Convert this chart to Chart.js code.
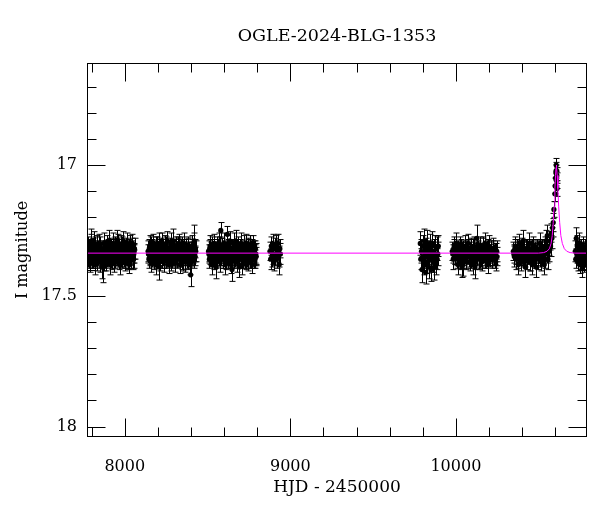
<!DOCTYPE html>
<html>
<head>
<meta charset="utf-8">
<script src="https://cdn.jsdelivr.net/npm/chart.js@4"></script>
<style>body{margin:0;background:#fff}canvas{display:block}</style>
</head>
<body>
<canvas id="c" width="600" height="512"></canvas>
<script>
// OGLE I-band photometry, [HJD-2450000, mag, err], arrays per season
const s1=[[7776,17.31,.035],[7781,17.35,.04],[7785,17.33,.035],[7790,17.37,.04],[7794,17.30,.035],[7799,17.29,.045],[7803,17.36,.035],[7808,17.32,.04],
[7812,17.29,.035],[7817,17.35,.04],[7821,17.38,.04],[7826,17.33,.035],[7830,17.31,.04],[7835,17.36,.035],[7839,17.34,.04],[7844,17.30,.035],
[7848,17.37,.04],[7853,17.33,.035],[7857,17.35,.04],[7862,17.39,.045],[7866,17.39,.06],[7871,17.34,.035],[7875,17.30,.04],[7880,17.36,.035],
[7884,17.33,.04],[7889,17.37,.035],[7893,17.31,.04],[7898,17.35,.035],[7902,17.29,.04],[7907,17.34,.035],[7911,17.38,.04],[7916,17.32,.035],
[7920,17.36,.04],[7925,17.33,.035],[7929,17.30,.04],[7934,17.35,.035],[7938,17.37,.04],[7943,17.31,.035],[7947,17.34,.04],[7952,17.29,.04],
[7956,17.32,.04],[7961,17.30,.035],[7965,17.35,.04],[7970,17.38,.04],[7974,17.33,.035],[7979,17.31,.04],[7984,17.36,.035],[7988,17.34,.04],
[7992,17.29,.035],[7997,17.35,.04],[8001,17.37,.035],[8006,17.32,.04],[8010,17.34,.035],[8015,17.30,.04],[8019,17.36,.035],[8024,17.33,.04],
[8028,17.38,.035],[8033,17.31,.04],[8037,17.35,.035],[8042,17.33,.04],[8046,17.30,.035],[8051,17.36,.04],[8055,17.34,.035],[8059,17.32,.04]];
const s1b=[[7778,17.34,.035],[7783,17.32,.035],[7787,17.36,.035],[7792,17.33,.03],[7796,17.35,.035],[7801,17.32,.035],[7805,17.34,.03],[7810,17.36,.035],
[7814,17.33,.035],[7819,17.31,.035],[7823,17.35,.03],[7828,17.34,.035],[7832,17.37,.035],[7837,17.32,.03],[7841,17.35,.035],[7846,17.33,.035],
[7850,17.31,.035],[7855,17.36,.03],[7859,17.33,.035],[7864,17.35,.035],[7868,17.32,.03],[7873,17.37,.035],[7877,17.34,.035],[7882,17.32,.03],
[7886,17.35,.035],[7891,17.33,.035],[7895,17.36,.03],[7900,17.32,.035],[7904,17.35,.035],[7909,17.31,.03],[7913,17.34,.035],[7918,17.36,.035],
[7922,17.33,.03],[7927,17.35,.035],[7931,17.32,.035],[7936,17.34,.03],[7940,17.36,.035],[7945,17.33,.035],[7949,17.31,.03],[7954,17.35,.035],
[7958,17.34,.035],[7963,17.37,.03],[7967,17.32,.035],[7972,17.34,.035],[7976,17.36,.03],[7981,17.33,.035],[7986,17.31,.035],[7990,17.35,.03],
[7994,17.33,.035],[7999,17.36,.035],[8003,17.32,.03],[8008,17.35,.035],[8012,17.33,.035],[8017,17.37,.03],[8021,17.34,.035],[8026,17.32,.035],
[8030,17.35,.03],[8035,17.33,.035],[8039,17.36,.035],[8044,17.31,.03],[8048,17.34,.035],[8053,17.36,.035],[8057,17.33,.03]];
const s2=[[8141,17.33,.04],[8146,17.36,.035],[8150,17.31,.04],[8155,17.35,.035],[8159,17.37,.04],[8164,17.32,.035],[8168,17.34,.04],[8173,17.30,.035],
[8177,17.36,.04],[8182,17.33,.035],[8186,17.38,.04],[8191,17.31,.035],[8195,17.35,.04],[8200,17.33,.035],[8204,17.30,.04],[8209,17.39,.05],
[8213,17.34,.035],[8218,17.32,.04],[8222,17.36,.035],[8227,17.30,.04],[8231,17.35,.035],[8236,17.37,.04],[8240,17.33,.035],[8245,17.31,.04],
[8249,17.36,.035],[8254,17.34,.04],[8258,17.29,.035],[8263,17.35,.04],[8267,17.38,.035],[8272,17.32,.04],[8276,17.34,.035],[8281,17.30,.04],
[8285,17.36,.035],[8290,17.33,.04],[8294,17.29,.045],[8299,17.35,.035],[8303,17.37,.04],[8308,17.31,.035],[8312,17.34,.04],[8317,17.36,.035],
[8321,17.32,.04],[8326,17.30,.035],[8330,17.35,.04],[8335,17.38,.035],[8339,17.33,.04],[8344,17.31,.035],[8348,17.36,.04],[8353,17.34,.035],
[8357,17.30,.04],[8362,17.35,.035],[8366,17.37,.04],[8371,17.32,.035],[8375,17.34,.04],[8380,17.31,.035],[8384,17.36,.04],[8389,17.33,.035],
[8393,17.38,.04],[8398,17.42,.045],[8402,17.35,.035],[8407,17.31,.04],[8411,17.34,.035],[8416,17.30,.04],[8420,17.29,.06],[8425,17.35,.035],[8429,17.33,.04]];
const s2b=[[8143,17.34,.035],[8148,17.32,.035],[8152,17.35,.03],[8157,17.33,.035],[8161,17.31,.035],[8166,17.36,.03],[8170,17.33,.035],[8175,17.35,.035],
[8179,17.32,.03],[8184,17.34,.035],[8188,17.36,.035],[8193,17.33,.03],[8197,17.31,.035],[8202,17.35,.035],[8206,17.34,.03],[8211,17.32,.035],
[8215,17.37,.035],[8220,17.33,.03],[8224,17.35,.035],[8229,17.32,.035],[8233,17.34,.03],[8238,17.36,.035],[8242,17.33,.035],[8247,17.35,.03],
[8251,17.31,.035],[8256,17.34,.035],[8260,17.36,.03],[8265,17.33,.035],[8269,17.35,.035],[8274,17.32,.03],[8278,17.37,.035],[8283,17.34,.035],
[8287,17.32,.03],[8292,17.35,.035],[8296,17.33,.035],[8301,17.36,.03],[8305,17.34,.035],[8310,17.32,.035],[8314,17.35,.03],[8319,17.33,.035],
[8323,17.31,.035],[8328,17.36,.03],[8332,17.34,.035],[8337,17.32,.035],[8341,17.35,.03],[8346,17.33,.035],[8350,17.37,.035],[8355,17.34,.03],
[8359,17.32,.035],[8364,17.35,.035],[8368,17.33,.03],[8373,17.36,.035],[8377,17.34,.035],[8382,17.31,.03],[8386,17.35,.035],[8391,17.33,.035],
[8395,17.36,.03],[8400,17.34,.035],[8404,17.32,.035],[8409,17.35,.03],[8413,17.33,.035],[8418,17.36,.035],[8422,17.34,.03],[8427,17.32,.035]];
const s3=[[8506,17.33,.04],[8511,17.36,.035],[8515,17.31,.04],[8520,17.35,.035],[8524,17.38,.04],[8529,17.32,.035],[8533,17.34,.04],[8538,17.30,.035],
[8542,17.36,.04],[8547,17.33,.035],[8551,17.39,.045],[8556,17.31,.035],[8560,17.35,.04],[8565,17.33,.035],[8569,17.30,.04],[8574,17.37,.04],
[8580,17.25,.03],[8584,17.34,.035],[8589,17.32,.04],[8593,17.36,.035],[8598,17.30,.04],[8602,17.35,.035],[8607,17.38,.04],[8611,17.33,.035],
[8616,17.31,.04],[8620,17.265,.03],[8625,17.36,.035],[8629,17.34,.04],[8634,17.29,.035],[8638,17.35,.04],[8643,17.38,.035],[8648,17.40,.045],
[8652,17.34,.035],[8657,17.30,.04],[8661,17.36,.035],[8666,17.33,.04],[8670,17.29,.04],[8675,17.35,.035],[8679,17.37,.04],[8684,17.31,.035],
[8688,17.34,.04],[8693,17.39,.04],[8697,17.32,.035],[8702,17.30,.04],[8706,17.35,.035],[8711,17.38,.04],[8715,17.33,.035],[8720,17.31,.04],
[8724,17.36,.035],[8729,17.34,.04],[8733,17.30,.035],[8738,17.35,.04],[8742,17.37,.035],[8747,17.32,.04],[8751,17.34,.035],[8756,17.31,.04],
[8760,17.36,.035],[8765,17.33,.04],[8769,17.38,.035],[8774,17.31,.04],[8778,17.35,.035],[8783,17.33,.04],[8787,17.36,.035],[8792,17.34,.04]];
const s3b=[[8508,17.34,.035],[8513,17.32,.035],[8517,17.35,.03],[8522,17.33,.035],[8526,17.31,.035],[8531,17.36,.03],[8535,17.34,.035],[8540,17.32,.035],
[8544,17.35,.03],[8549,17.33,.035],[8553,17.36,.035],[8558,17.34,.03],[8562,17.32,.035],[8567,17.35,.035],[8571,17.33,.03],[8576,17.31,.035],
[8582,17.35,.035],[8586,17.33,.03],[8591,17.36,.035],[8595,17.34,.035],[8600,17.32,.03],[8604,17.35,.035],[8609,17.33,.035],[8613,17.37,.03],
[8618,17.34,.035],[8622,17.32,.035],[8627,17.35,.03],[8631,17.33,.035],[8636,17.36,.035],[8640,17.34,.03],[8645,17.32,.035],[8650,17.36,.035],
[8654,17.33,.03],[8659,17.35,.035],[8663,17.32,.035],[8668,17.36,.03],[8672,17.34,.035],[8677,17.32,.035],[8681,17.35,.03],[8686,17.33,.035],
[8690,17.36,.035],[8695,17.34,.03],[8699,17.32,.035],[8704,17.35,.035],[8708,17.33,.03],[8713,17.36,.035],[8717,17.34,.035],[8722,17.32,.03],
[8726,17.35,.035],[8731,17.33,.035],[8735,17.37,.03],[8740,17.34,.035],[8744,17.32,.035],[8749,17.35,.03],[8753,17.33,.035],[8758,17.36,.035],
[8762,17.34,.03],[8767,17.32,.035],[8771,17.35,.035],[8776,17.33,.03],[8780,17.36,.035],[8785,17.34,.035],[8789,17.32,.03],[8794,17.35,.035]];
const s4=[[8877,17.33,.035],[8881,17.36,.04],[8885,17.31,.035],[8889,17.35,.04],[8893,17.30,.035],[8897,17.34,.04],[8901,17.37,.035],[8905,17.32,.04],
[8909,17.35,.035],[8913,17.31,.04],[8917,17.36,.035],[8921,17.33,.04],[8925,17.30,.035],[8929,17.35,.04],[8933,17.38,.04],[8937,17.32,.035],[8940,17.34,.04]];
const s5=[[9785,17.30,.045],[9788,17.36,.04],[9792,17.33,.045],[9795,17.40,.05],[9799,17.31,.04],[9803,17.35,.045],[9806,17.38,.04],[9810,17.29,.045],
[9814,17.34,.05],[9817,17.41,.045],[9821,17.32,.04],[9825,17.37,.045],[9828,17.30,.05],[9832,17.35,.04],[9836,17.39,.045],[9839,17.33,.04],
[9843,17.31,.045],[9847,17.36,.05],[9850,17.40,.045],[9854,17.34,.04],[9858,17.30,.045],[9861,17.37,.04],[9865,17.33,.045],[9869,17.39,.05],
[9872,17.31,.04],[9876,17.35,.045],[9880,17.38,.04],[9883,17.32,.045],[9887,17.36,.04],[9891,17.34,.045],[9894,17.31,.04]];
const s6=[[9978,17.33,.035],[9984,17.36,.04],[9990,17.31,.035],[9996,17.34,.04],[10001,17.30,.04],[10007,17.35,.035],[10013,17.38,.04],[10019,17.33,.035],
[10025,17.36,.04],[10031,17.32,.035],[10037,17.39,.04],[10043,17.38,.045],[10049,17.34,.035],[10055,17.31,.04],[10061,17.36,.035],[10067,17.33,.04],
[10073,17.30,.035],[10079,17.35,.04],[10085,17.37,.035],[10091,17.32,.04],[10097,17.34,.035],[10103,17.38,.04],[10109,17.31,.035],[10115,17.39,.045],
[10121,17.34,.04],[10127,17.28,.05],[10133,17.33,.035],[10139,17.36,.04],[10145,17.31,.035],[10151,17.35,.04],[10157,17.37,.035],[10163,17.32,.04],
[10169,17.34,.035],[10175,17.30,.04],[10181,17.36,.035],[10187,17.33,.04],[10193,17.38,.035],[10199,17.31,.04],[10205,17.35,.035],[10211,17.33,.04],
[10217,17.36,.035],[10223,17.32,.04],[10229,17.35,.035],[10235,17.34,.04],[10241,17.37,.035],[10247,17.33,.04]];
const s6b=[[9981,17.34,.035],[9987,17.32,.035],[9993,17.35,.03],[9999,17.33,.035],[10004,17.36,.035],[10010,17.32,.03],[10016,17.34,.035],[10022,17.31,.035],
[10028,17.35,.03],[10034,17.33,.035],[10040,17.36,.035],[10046,17.32,.03],[10052,17.35,.035],[10058,17.33,.035],[10064,17.37,.03],[10070,17.34,.035],
[10076,17.32,.035],[10082,17.35,.03],[10088,17.33,.035],[10094,17.36,.035],[10100,17.34,.03],[10106,17.32,.035],[10112,17.35,.035],[10118,17.37,.03],
[10124,17.33,.035],[10130,17.35,.035],[10136,17.32,.03],[10142,17.34,.035],[10148,17.36,.035],[10154,17.33,.03],[10160,17.35,.035],[10166,17.31,.035],
[10172,17.34,.03],[10178,17.36,.035],[10184,17.33,.035],[10190,17.35,.03],[10196,17.32,.035],[10202,17.34,.035],[10208,17.36,.03],[10214,17.33,.035],
[10220,17.35,.035],[10226,17.32,.03],[10232,17.34,.035],[10238,17.36,.035],[10244,17.33,.03],[10249,17.35,.035]];
const s7=[[10347,17.33,.035],[10353,17.35,.04],[10359,17.31,.035],[10365,17.36,.04],[10371,17.32,.035],[10377,17.38,.04],[10383,17.30,.035],[10389,17.34,.04],
[10395,17.37,.035],[10401,17.33,.04],[10407,17.29,.04],[10413,17.35,.035],[10419,17.39,.04],[10425,17.32,.035],[10431,17.36,.04],[10437,17.34,.035],
[10443,17.30,.04],[10449,17.37,.035],[10455,17.33,.04],[10461,17.38,.04],[10467,17.31,.035],[10473,17.35,.04],[10479,17.33,.035],[10485,17.39,.04],
[10491,17.32,.035],[10497,17.36,.04],[10503,17.34,.035],[10509,17.30,.04],[10515,17.37,.035],[10521,17.33,.04],[10527,17.35,.035],[10533,17.38,.04],
[10539,17.31,.035],[10544,17.29,.04],[10548,17.34,.035],[10552,17.27,.04],[10556,17.36,.04],[10560,17.31,.035],[10564,17.33,.04],
[10568,17.29,.035],[10572,17.31,.04],[10576,17.26,.035],[10580,17.28,.04],[10584,17.24,.035],[10588,17.22,.035],[10592,17.17,.03],
[10598,17.11,.03],[10600,17.08,.03],[10602,17.05,.03],[10604,17.03,.03],[10606,17.00,.025],[10607,17.02,.03],[10608,17.06,.03],[10610,17.04,.03],[10611,17.09,.03]];
const s7b=[[10350,17.34,.035],[10356,17.32,.035],[10362,17.35,.03],[10368,17.33,.035],[10374,17.36,.035],[10380,17.32,.03],[10386,17.35,.035],[10392,17.33,.035],
[10398,17.31,.03],[10404,17.35,.035],[10410,17.33,.035],[10416,17.36,.03],[10422,17.34,.035],[10428,17.32,.035],[10434,17.35,.03],[10440,17.33,.035],
[10446,17.37,.035],[10452,17.34,.03],[10458,17.32,.035],[10464,17.35,.035],[10470,17.33,.03],[10476,17.36,.035],[10482,17.34,.035],[10488,17.32,.03],
[10494,17.35,.035],[10500,17.33,.035],[10506,17.36,.03],[10512,17.34,.035],[10518,17.32,.035],[10524,17.35,.03],[10530,17.33,.035],[10536,17.36,.035],[10541,17.34,.03]];
const s8=[[10721,17.33,.04],[10724,17.36,.035],[10727,17.28,.04],[10730,17.34,.035],[10733,17.31,.04],[10736,17.37,.035],[10739,17.33,.04],[10742,17.35,.035],
[10745,17.30,.04],[10748,17.38,.035],[10751,17.34,.04],[10754,17.32,.035],[10757,17.36,.04],[10760,17.33,.035],[10763,17.39,.04],[10766,17.31,.035],
[10769,17.35,.04],[10772,17.34,.035],[10775,17.37,.04],[10778,17.32,.035],[10781,17.35,.04],[10784,17.33,.035],[10787,17.36,.04],[10790,17.34,.035]];

// microlensing model curve
const modelHjd=[7772,10500,10530,10550,10565,10575,10582,10588,10593,10598,10602,10605,10607,10609,10612,10616,10621,10627,10634,10643,10655,10670,10690,10720,10792];
const modelMag=[17.337,17.337,17.335,17.33,17.32,17.30,17.27,17.22,17.16,17.09,17.04,17.01,17.00,17.01,17.04,17.09,17.16,17.22,17.27,17.30,17.32,17.33,17.335,17.337,17.337];

const xTicks=[7800,8000,8200,8400,8600,8800,9000,9200,9400,9600,9800,10000,10200,10400,10600];
const xTickLabels=[8000,9000,10000];
const yTicks=[16.7,16.8,16.9,17,17.1,17.2,17.3,17.4,17.5,17.6,17.7,17.8,17.9,18];
const yTickLabels=[17,17.5,18];

const obs=[s1,s1b,s2,s2b,s3,s3b,s4,s5,s6,s6b,s7,s7b,s8].flat().map(p=>({x:p[0],y:p[1],err:p[2]}));

Chart.defaults.font.family='"DejaVu Serif", serif';
Chart.defaults.color='#000';

const near=(a,b)=>Math.abs(a-b)<1e-6;

// error bars under the dots
const errorBars={
  id:'errorBars',
  beforeDatasetsDraw(chart){
    const {ctx,chartArea:a,scales:{x,y}}=chart;
    ctx.save();
    ctx.beginPath();ctx.rect(a.left,a.top,a.width,a.height);ctx.clip();
    ctx.strokeStyle='#000';ctx.lineWidth=1;
    ctx.beginPath();
    obs.forEach(p=>{
      const px=Math.round(x.getPixelForValue(p.x))+.5;
      const y1=y.getPixelForValue(p.y-p.err),y2=y.getPixelForValue(p.y+p.err);
      ctx.moveTo(px,y1);ctx.lineTo(px,y2);
      ctx.moveTo(px-3,y1);ctx.lineTo(px+3,y1);
      ctx.moveTo(px-3,y2);ctx.lineTo(px+3,y2);
    });
    ctx.stroke();
    ctx.restore();
  }
};

// box + inward ticks on all four sides
const frame={
  id:'frame',
  afterDatasetsDraw(chart){
    const {ctx,chartArea:a,scales:{x,y}}=chart;
    const L=Math.round(a.left)+.5,R=Math.round(a.right)-.5,T=Math.round(a.top)+.5,B=Math.round(a.bottom)-.5;
    ctx.save();
    ctx.strokeStyle='#000';ctx.lineWidth=1;
    ctx.strokeRect(L,T,R-L,B-T);
    ctx.beginPath();
    x.ticks.forEach(t=>{
      const len=t.value%1000===0?18:9;
      const px=Math.round(x.getPixelForValue(t.value))+.5;
      ctx.moveTo(px,B);ctx.lineTo(px,B-len);
      ctx.moveTo(px,T);ctx.lineTo(px,T+len);
    });
    y.ticks.forEach(t=>{
      const len=near(t.value*2,Math.round(t.value*2))?18:9;
      const py=Math.round(y.getPixelForValue(t.value))+.5;
      ctx.moveTo(L,py);ctx.lineTo(L+len,py);
      ctx.moveTo(R,py);ctx.lineTo(R-len,py);
    });
    ctx.stroke();
    ctx.restore();
  }
};

new Chart(document.getElementById('c'),{
  type:'scatter',
  data:{datasets:[
    {type:'line',data:modelHjd.map((v,i)=>({x:v,y:modelMag[i]})),borderColor:'#ff00ff',borderWidth:1,pointRadius:0,tension:0,order:0},
    {data:obs,pointRadius:2.6,backgroundColor:'#000',borderWidth:0,order:1}
  ]},
  options:{
    responsive:false,animation:false,devicePixelRatio:1,
    layout:{padding:{left:0,right:13,top:0,bottom:0}},
    plugins:{
      legend:{display:false},tooltip:{enabled:false},
      title:{display:true,text:'OGLE-2024-BLG-1353',fullSize:false,color:'#000',
        font:{size:17.5,weight:'normal'},padding:{top:26,bottom:16}}
    },
    scales:{
      x:{type:'linear',min:7772,max:10792,
        grid:{display:false,drawTicks:true,tickLength:12},border:{display:false},
        afterBuildTicks:s=>{s.ticks=xTicks.map(v=>({value:v}));},
        ticks:{autoSkip:false,maxRotation:0,padding:8,font:{size:16},
          callback:v=>xTickLabels.includes(v)?String(v):''},
        title:{display:true,text:'HJD - 2450000',font:{size:17},padding:{top:0,bottom:14}},
        afterFit:s=>{s.height=75;}},
      y:{type:'linear',reverse:true,min:16.61,max:18.04,
        grid:{display:false,drawTicks:false},border:{display:false},
        afterBuildTicks:s=>{s.ticks=yTicks.map(v=>({value:v}));},
        ticks:{autoSkip:false,padding:10,font:{size:16},
          callback:v=>{const m=yTickLabels.find(l=>near(l,v));return m===undefined?'':String(m);}},
        title:{display:true,text:'I magnitude',font:{size:16},padding:{top:13,bottom:0}},
        afterFit:s=>{s.width=87;}}
    }
  },
  plugins:[errorBars,frame]
});
</script>
</body>
</html>
